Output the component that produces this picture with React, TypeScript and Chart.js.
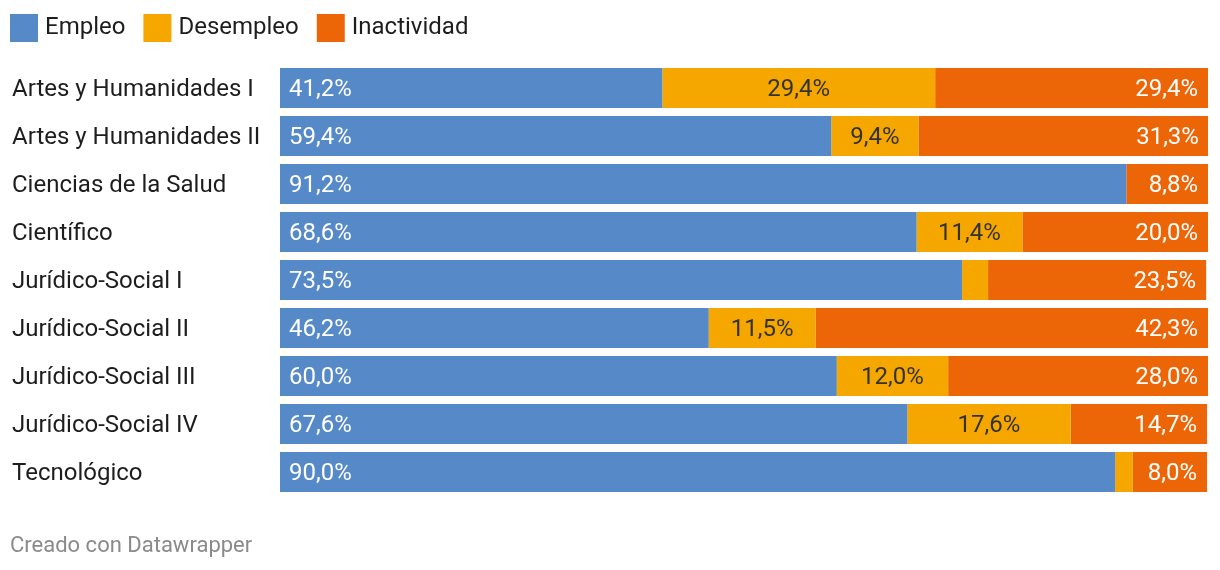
import React, { useEffect, useRef } from "react";
import { Chart, registerables } from "chart.js";

Chart.register(...registerables);

const categories = [
  "Artes y Humanidades I",
  "Artes y Humanidades II",
  "Ciencias de la Salud",
  "Científico",
  "Jurídico-Social I",
  "Jurídico-Social II",
  "Jurídico-Social III",
  "Jurídico-Social IV",
  "Tecnológico",
];
const empleo = [41.2, 59.4, 91.2, 68.6, 73.5, 46.2, 60.0, 67.6, 90.0];
const desempleo = [29.4, 9.4, 0, 11.4, 2.8, 11.5, 12.0, 17.6, 1.9];
const inactividad = [29.4, 31.3, 8.8, 20.0, 23.5, 42.3, 28.0, 14.7, 8.0];

const seriesNames = ["Empleo", "Desempleo", "Inactividad"];
const seriesColors = ["#5589c8", "#f5a700", "#ec6608"];
const labelColors = ["#ffffff", "#333333", "#ffffff"];
const footerText = "Creado con Datawrapper";

const FONT = "Roboto, 'Noto Sans', sans-serif";
const FS = 24;

const fmt = (v: number) => v.toFixed(1).replace(".", ",") + "%";

const overlayPlugin = {
  id: "overlay",
  afterDatasetsDraw(chart: any) {
    const ctx = chart.ctx;
    ctx.save();
    ctx.font = `${FS}px ${FONT}`;
    ctx.textBaseline = "middle";
    chart.data.datasets.forEach((ds: any, di: number) => {
      const meta = chart.getDatasetMeta(di);
      meta.data.forEach((bar: any, i: number) => {
        const v = ds.data[i];
        if (!v || v < 5) return;
        const left = Math.min(bar.x, bar.base);
        const right = Math.max(bar.x, bar.base);
        ctx.fillStyle = labelColors[di];
        if (di === 0) {
          ctx.textAlign = "left";
          ctx.fillText(fmt(v), left + 9, bar.y + 2);
        } else if (di === 2) {
          ctx.textAlign = "right";
          ctx.fillText(fmt(v), right - 10, bar.y + 2);
        } else {
          ctx.textAlign = "center";
          ctx.fillText(fmt(v), (left + right) / 2, bar.y + 2);
        }
      });
    });
    ctx.restore();
  },
  afterDraw(chart: any) {
    const ctx = chart.ctx;
    ctx.save();
    // legend
    ctx.font = `${FS}px ${FONT}`;
    ctx.textBaseline = "middle";
    ctx.textAlign = "left";
    let x = 10;
    seriesNames.forEach((name, i) => {
      ctx.fillStyle = seriesColors[i];
      ctx.fillRect(x, 14, 28, 28);
      ctx.fillStyle = "#1d1d1d";
      ctx.fillText(name, x + 35, 28);
      x += 35 + ctx.measureText(name).width + 18;
    });
    // footer
    ctx.font = `22px ${FONT}`;
    ctx.fillStyle = "#8a8a8a";
    ctx.fillText(footerText, 10, 546);
    ctx.restore();
  },
};

export default function App() {
  const ref = useRef<HTMLCanvasElement>(null);
  useEffect(() => {
    if (!ref.current) return;
    const chart = new Chart(ref.current, {
      type: "bar",
      data: {
        labels: categories,
        datasets: [empleo, desempleo, inactividad].map((d, i) => ({
          label: seriesNames[i],
          data: d,
          backgroundColor: seriesColors[i],
          borderWidth: 0,
          barPercentage: 1,
          categoryPercentage: 40 / 48,
        })),
      },
      options: {
        indexAxis: "y",
        animation: false,
        responsive: false,
        maintainAspectRatio: false,
        layout: { padding: { left: 12, right: 12, top: 64, bottom: 74 } },
        plugins: { legend: { display: false }, tooltip: { enabled: false } },
        scales: {
          x: { stacked: true, min: 0, max: 100, display: false },
          y: {
            stacked: true,
            grid: { display: false },
            border: { display: false },
            ticks: {
              crossAlign: "far",
              color: "#1d1d1d",
              font: { family: FONT, size: FS },
              padding: 0,
              labelOffset: 2,
            },
            afterFit: (scale: any) => {
              scale.width = 268;
            },
          },
        },
      },
      plugins: [overlayPlugin],
    } as any);
    return () => chart.destroy();
  }, []);
  return (
    <div style={{ position: "fixed", left: 0, top: 0, width: 1220, height: 570, background: "#fff" }}>
      <canvas ref={ref} width={1220} height={570} style={{ display: "block" }} />
    </div>
  );
}
